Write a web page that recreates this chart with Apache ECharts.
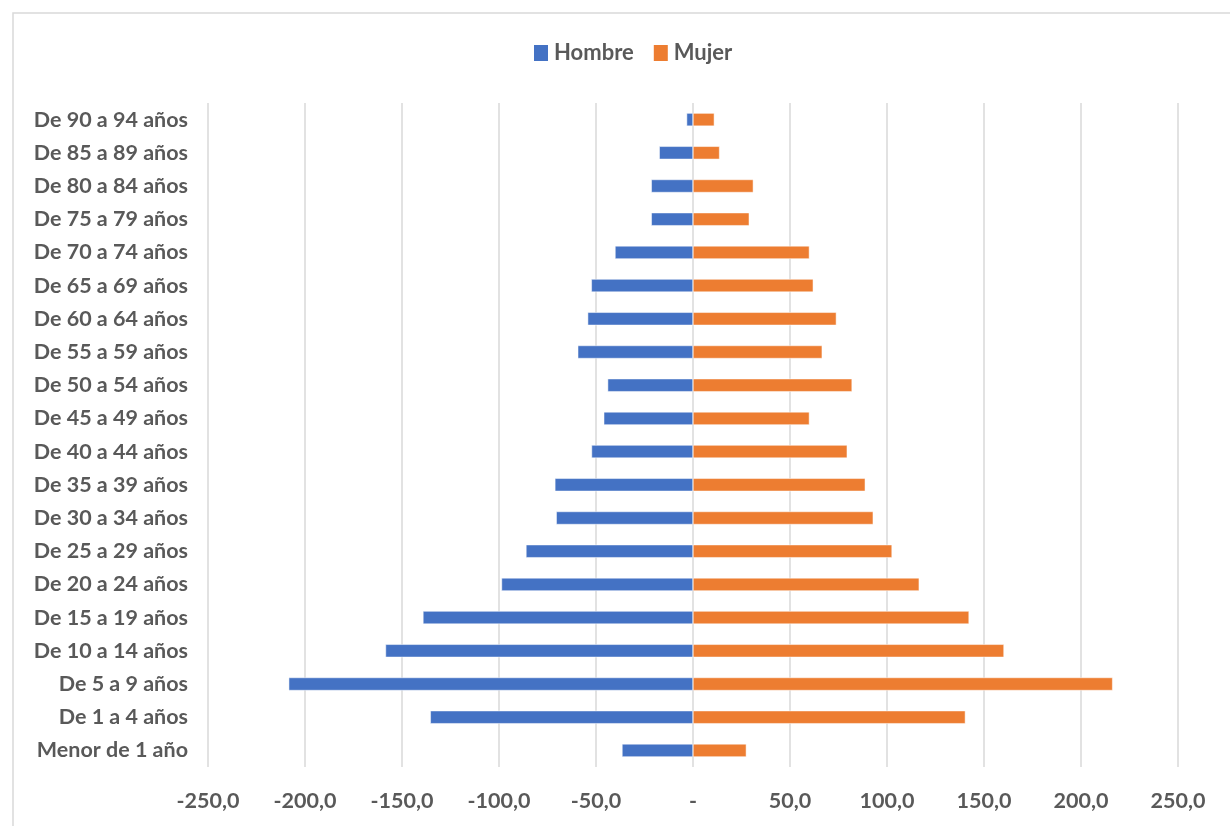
<!DOCTYPE html>
<html>
<head>
<meta charset="utf-8">
<script src="https://cdn.jsdelivr.net/npm/echarts@6/dist/echarts.min.js"></script>
<style>
html,body{margin:0;padding:0;background:#fff;}
#c{width:1230px;height:826px;}
</style>
</head>
<body>
<div id="c"></div>
<script>
const categories = ["Menor de 1 año","De 1 a 4 años","De 5 a 9 años","De 10 a 14 años","De 15 a 19 años","De 20 a 24 años","De 25 a 29 años","De 30 a 34 años","De 35 a 39 años","De 40 a 44 años","De 45 a 49 años","De 50 a 54 años","De 55 a 59 años","De 60 a 64 años","De 65 a 69 años","De 70 a 74 años","De 75 a 79 años","De 80 a 84 años","De 85 a 89 años","De 90 a 94 años"];
const hombre = [-36.6,-135.4,-208.4,-158.5,-139.2,-98.7,-86.1,-70.5,-71.2,-52.3,-46.0,-44.0,-59.4,-54.3,-52.4,-40.2,-21.5,-21.5,-17.4,-3.3];
const mujer = [27.5,140.4,216.3,160.3,142.3,116.6,102.6,92.9,88.8,79.5,60.0,82.0,66.6,73.9,62.0,60.0,29.0,31.1,13.7,11.0];
const seriesNames = ["Hombre","Mujer"];

const font = "Lato, 'Open Sans', sans-serif";
const chart = echarts.init(document.getElementById('c'));
chart.setOption({
  animation:false,
  backgroundColor:'#ffffff',
  graphic:[{type:'rect',shape:{x:13,y:13,width:1260,height:860},style:{fill:'none',stroke:'#d9d9d9',lineWidth:1.5},silent:true,z:-10}],
  legend:{
    data:seriesNames,
    top:37,left:529,
    itemWidth:14,itemHeight:16,itemGap:20,
    itemStyle:{borderWidth:0},
    textStyle:{fontFamily:font,fontWeight:'bold',fontSize:22,color:'#595959',padding:[0,0,0,1]},
    icon:'rect'
  },
  grid:{left:208,right:52,top:103,bottom:59},
  xAxis:{
    type:'value',min:-250,max:250,interval:50,
    axisLine:{show:false},axisTick:{show:false},
    splitLine:{lineStyle:{color:'#d9d9d9',width:1.5}},
    axisLabel:{
      margin:23,fontFamily:font,fontWeight:'bold',fontSize:21.5,color:'#595959',
      formatter:v=> v===0?'-':v.toFixed(1).replace('.',',')
    }
  },
  yAxis:{
    type:'category',data:categories,
    axisLine:{show:false},axisTick:{show:false},
    axisLabel:{margin:20,fontFamily:font,fontWeight:'bold',fontSize:21.5,color:'#595959'}
  },
  series:[
    {name:seriesNames[0],type:'bar',data:hombre,barWidth:13,barGap:'-100%',itemStyle:{color:'#4472C4',borderColor:'#fff',borderWidth:0.5}},
    {name:seriesNames[1],type:'bar',data:mujer,barWidth:13,itemStyle:{color:'#ED7D31',borderColor:'#fff',borderWidth:0.5}}
  ]
});
</script>
</body>
</html>
